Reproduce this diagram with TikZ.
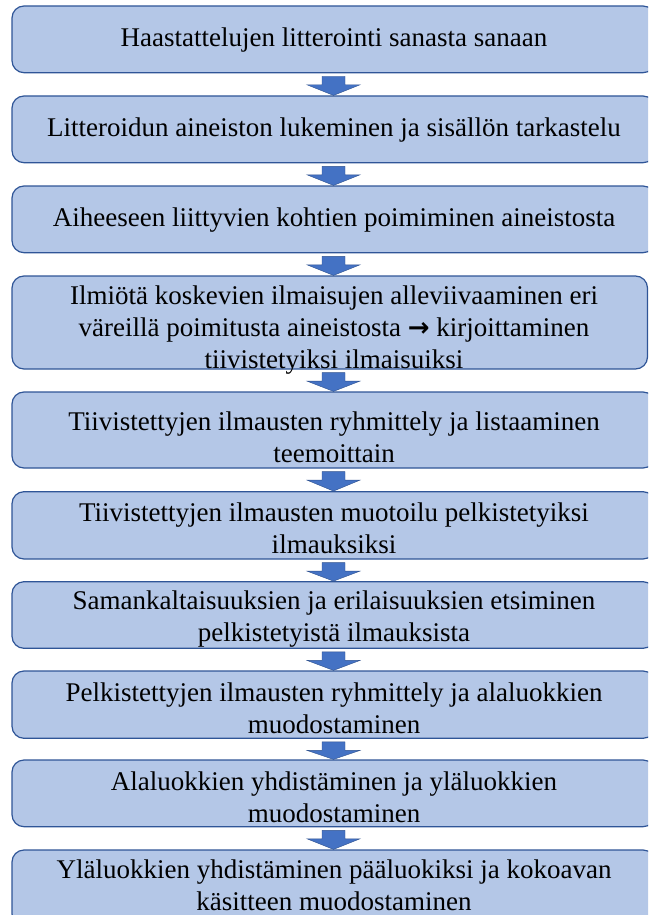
\documentclass[tikz,border=0pt]{standalone}
\usepackage{fontspec}
\setmainfont{Liberation Serif}
\newfontfamily\serifmain{Liberation Serif}
\newfontfamily\symfont{DejaVu Sans}
\usetikzlibrary{calc}
\definecolor{boxfill}{RGB}{180,199,231}
\definecolor{boxline}{RGB}{47,85,151}
\definecolor{arrfill}{RGB}{68,114,196}
\definecolor{arrline}{RGB}{47,82,143}
\tikzset{
  flowbox/.style={draw=boxline, fill=boxfill, line width=1.2pt, rounded corners=12pt,
    inner sep=0pt, minimum width=643pt},
  flowtext/.style={align=center, inner sep=0pt, font=\serifmain\fontsize{27}{31.8}\selectfont},
  arrowfill/.style={fill=arrfill, draw=arrline, line width=0.4pt}
}
\newcommand\flowarrow[2]{%
  \path let \p1=(#1.south), \p2=(#2.north), \p3=(axis) in
  [arrowfill] (\x3-11.5pt,\y1-3pt) -- (\x3+11.5pt,\y1-3pt) -- (\x3+11.5pt,\y1-11.5pt)
  -- (\x3+26.5pt,\y1-11.5pt) -- (\x3,\y2) -- (\x3-26.5pt,\y1-11.5pt)
  -- (\x3-11.5pt,\y1-11.5pt) -- cycle;}
\begin{document}
\begin{tikzpicture}[x=1pt,y=-1pt]
\useasboundingbox (0,0) rectangle (648,915);
\clip (0,0) rectangle (648,915);
\coordinate (axis) at (333.5,0);
% boxes
\node[flowbox, minimum height=66.7pt] (b1) at (333.5,39.35) {};
\node[flowbox, minimum height=66.7pt] (b2) at (333.5,129.35) {};
\node[flowbox, minimum height=66.7pt] (b3) at (333.5,219.35) {};
\node[flowbox, minimum height=93pt, minimum width=635.5pt] (b4) at (329.75,322.5) {};
\node[flowbox, minimum height=76pt] (b5) at (333.5,430) {};
\node[flowbox, minimum height=67.3pt] (b6) at (333.5,525.35) {};
\node[flowbox, minimum height=66.6pt] (b7) at (333.5,615) {};
\node[flowbox, minimum height=67.3pt] (b8) at (333.5,704.65) {};
\node[flowbox, minimum height=66.7pt] (b9) at (333.5,793.35) {};
\node[flowbox, minimum height=76pt] (b10) at (333.5,888) {};
% texts
\node[flowtext] (t1) at (334,40) {Haastattelujen litterointi sanasta sanaan};
\node[flowtext] (t2) at (334,130) {Litteroidun aineiston lukeminen ja sisällön tarkastelu};
\node[flowtext] (t3) at (334,220) {Aiheeseen liittyvien kohtien poimiminen aineistosta};
\node[flowtext] (t4) at (334,330) {Ilmiötä koskevien ilmaisujen alleviivaaminen eri\\
  väreillä poimitusta aineistosta {\symfont\bfseries\fontsize{26}{26}\selectfont →} kirjoittaminen\\
  tiivistetyiksi ilmaisuiksi};
\node[flowtext] (t5) at (334,437) {Tiivistettyjen ilmausten ryhmittely ja listaaminen\\ teemoittain};
\node[flowtext] (t6) at (334,528) {Tiivistettyjen ilmausten muotoilu pelkistetyiksi\\ ilmauksiksi};
\node[flowtext] (t7) at (334,619) {Samankaltaisuuksien ja erilaisuuksien etsiminen\\ pelkistetyistä ilmauksista};
\node[flowtext] (t8) at (334,708) {Pelkistettyjen ilmausten ryhmittely ja alaluokkien\\ muodostaminen};
\node[flowtext] (t9) at (334,797) {Alaluokkien yhdistäminen ja yläluokkien\\ muodostaminen};
\node[flowtext] (t10) at (334,885) {Yläluokkien yhdistäminen pääluokiksi ja kokoavan\\ käsitteen muodostaminen};
% arrows
\flowarrow{b1}{b2}
\flowarrow{b2}{b3}
\flowarrow{b3}{b4}
\flowarrow{b4}{b5}
\flowarrow{b5}{b6}
\flowarrow{b6}{b7}
\flowarrow{b7}{b8}
\flowarrow{b8}{b9}
\flowarrow{b9}{b10}
\end{tikzpicture}
\end{document}
